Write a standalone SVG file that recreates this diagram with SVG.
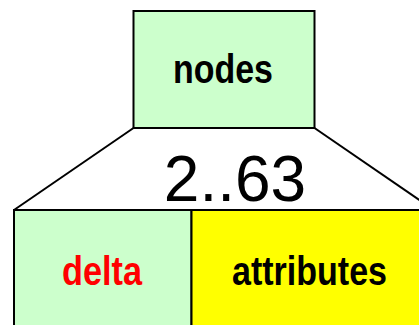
<svg xmlns="http://www.w3.org/2000/svg" width="419" height="325" viewBox="0 0 419 325">
<style>
.box{stroke:#000;stroke-width:2}
.lbl{font-family:"Liberation Sans",Arial,sans-serif;font-weight:bold;font-size:41px}
.conn{stroke:#000;stroke-width:2;fill:none}
</style>
<rect width="419" height="325" fill="#fff"/>
<g id="connectors">
<line class="conn" x1="133.5" y1="128" x2="14" y2="210"/>
<line class="conn" x1="314.5" y1="128" x2="434" y2="210"/>
</g>
<g id="nodes">
<rect class="box" x="133.5" y="11" width="181" height="117" fill="#CCFFCC"/>
<text class="lbl" x="173" y="83" textLength="100" lengthAdjust="spacingAndGlyphs">nodes</text>
</g>
<g id="range">
<text x="235" y="201" text-anchor="middle" font-family="'Liberation Sans',Arial,sans-serif" font-size="64">2..63</text>
</g>
<g id="delta">
<rect class="box" x="14" y="210" width="177.5" height="120" fill="#CCFFCC"/>
<text class="lbl" x="62" y="285" fill="#FF0000" textLength="80" lengthAdjust="spacingAndGlyphs">delta</text>
</g>
<g id="attributes">
<rect class="box" x="191.5" y="210" width="245" height="120" fill="#FFFF00"/>
<text class="lbl" x="232" y="285" textLength="155" lengthAdjust="spacingAndGlyphs">attributes</text>
</g>
</svg>
